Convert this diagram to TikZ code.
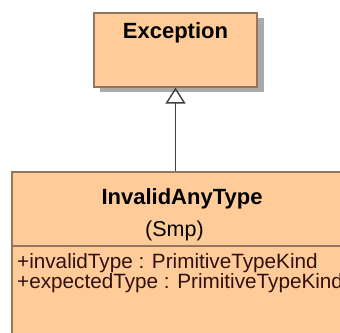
\documentclass[tikz,border=0pt]{standalone}
\usepackage{fontspec}
\setmainfont{Liberation Sans}
\usetikzlibrary{arrows.meta}
\definecolor{classfill}{RGB}{255,204,153}
\definecolor{classborder}{RGB}{150,118,88}
\definecolor{shadowgray}{RGB}{170,170,170}
\definecolor{attrtext}{RGB}{50,15,15}
\definecolor{linkgray}{RGB}{64,64,64}
\tikzset{
  classbox/.style={draw=classborder, fill=classfill, line width=1.2pt, inner sep=0pt},
  boldtitle/.style={inner sep=0pt, anchor=base, font=\fontsize{22}{22}\selectfont\bfseries},
  plaintext/.style={inner sep=0pt, anchor=base, font=\fontsize{21.5}{21.5}\selectfont},
  attrline/.style={inner sep=0pt, anchor=base west, text=attrtext, font=\fontsize{20.7}{20.7}\selectfont},
  generalization/.style={draw=linkgray, line width=1.4pt, -{Triangle[open, length=16pt, width=20pt]}}
}
\begin{document}
\begin{tikzpicture}[x=1pt, y=1pt]
  \useasboundingbox (0,0) rectangle (340,-332);
  \fill[white] (0,0) rectangle (340,-332);
  % Exception class with its shadow
  \fill[shadowgray] (100,-18) rectangle (264,-92);
  \node[classbox, minimum width=163pt, minimum height=74pt] (exc) at (175.5,-50) {};
  \node[boldtitle] (excname) at (175.5,-38) {Exception};
  % InvalidAnyType class, running past the right and bottom edges
  \begin{scope}
    \clip (0,0) rectangle (340,-332);
    \node[classbox, minimum width=340pt, minimum height=170pt] (inv) at (182,-257) {};
    \coordinate (sepL) at (12,-246);
    \coordinate (sepR) at (352,-246);
    \draw[classborder, line width=1.2pt] (sepL) -- (sepR);
  \end{scope}
  \node[boldtitle] (invname) at (182,-204) {InvalidAnyType};
  \node[plaintext] (invpkg) at (174.5,-236.5) {(Smp)};
  \node[attrline] (attr1) at (17,-268.5) {+invalidType : PrimitiveTypeKind};
  \node[attrline] (attr2) at (17,-288) {+expectedType : PrimitiveTypeKind};
  % Generalization
  \draw[generalization] (exc.south |- inv.north) -- (exc.south);
\end{tikzpicture}
\end{document}
